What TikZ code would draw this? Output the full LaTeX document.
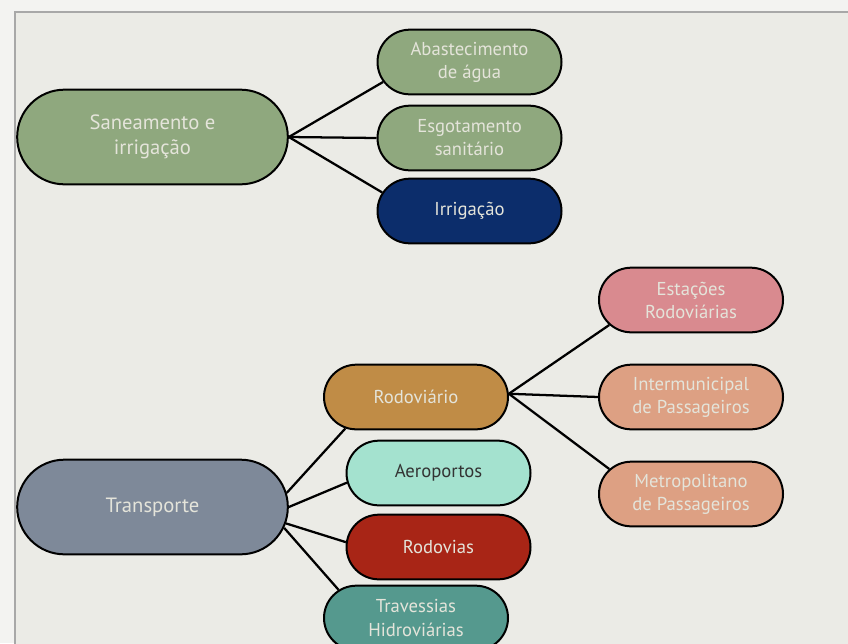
\documentclass[tikz,border=0pt]{standalone}
\usepackage{fontspec}
\setmainfont{PT Sans}
\usetikzlibrary{shapes.misc}
\definecolor{fundo}{HTML}{F3F3F1}
\definecolor{quadro}{HTML}{EBEBE6}
\definecolor{moldura}{HTML}{A8A8A8}
\definecolor{claro}{HTML}{E4E4DA}
\definecolor{verde}{HTML}{8FA87E}
\definecolor{azul}{HTML}{0C2D6B}
\definecolor{cinza}{HTML}{7E8999}
\definecolor{ocre}{HTML}{C08C46}
\definecolor{agua}{HTML}{A4E2CF}
\definecolor{vermelho}{HTML}{A82516}
\definecolor{petroleo}{HTML}{55998E}
\definecolor{rosa}{HTML}{D98A8F}
\definecolor{salmao}{HTML}{DDA083}
\begin{document}
\begin{tikzpicture}  % ------ Saneamento e transporte --------
      [x=0.75pt,y=-0.75pt,
       caixa/.style={rounded rectangle, draw=black, line width=1.5pt,
          minimum height=48.5pt, minimum width=142pt, inner sep=2pt,
          text=claro, align=center, font=\fontsize{14}{17.3}\selectfont},
       grande/.style={caixa, minimum height=71pt, minimum width=207pt,
          font=\fontsize{15.5}{18.5}\selectfont},
       ramo/.style={line width=1.7pt}]
    \useasboundingbox (0,0) rectangle (848,643);
    \clip (0,0) rectangle (848,643);
    \fill[fundo] (0,0) rectangle (848,643);
    \filldraw[fill=quadro, draw=moldura, line width=1.5pt] (15,12) rectangle (870,670);
    % centros
    \coordinate (S) at (152.5,137);
    \coordinate (S1) at (469.5,62);
    \coordinate (S2) at (469.5,138);
    \coordinate (S3) at (469.5,211);
    \coordinate (T) at (152.5,507);
    \coordinate (T1) at (416,397);
    \coordinate (T2) at (438.5,473);
    \coordinate (T3) at (438.5,547);
    \coordinate (T4) at (416,618);
    \coordinate (R1) at (691,300);
    \coordinate (R2) at (691,397);
    \coordinate (R3) at (691,494);
    % saneamento
    \node[grande, fill=verde] (sane) at (S) {Saneamento e\\irrigação};
    \node[caixa, fill=verde] (abast) at (S1) {Abastecimento\\de água};
    \node[caixa, fill=verde] (esgot) at (S2) {Esgotamento\\sanitário};
    \node[caixa, fill=azul] (irrig) at (S3) {Irrigação};
    \draw[ramo] (sane.east) -- (abast.193);
    \draw[ramo] (sane.east) -- (esgot.west);
    \draw[ramo] (sane.east) -- (irrig.168);
    % transporte
    \node[grande, fill=cinza] (transp) at (T) {Transporte};
    \node[caixa, fill=ocre] (rodov) at (T1) {Rodoviário};
    \node[caixa, fill=agua, text=black!80] (aero) at (T2) {Aeroportos};
    \node[caixa, fill=vermelho] (rodovias) at (T3) {Rodovias};
    \node[caixa, fill=petroleo] (hidro) at (T4) {Travessias\\Hidroviárias};
    \draw[ramo] (transp.6) -- (rodov.204);
    \draw[ramo] (transp.east) -- (aero.186);
    \draw[ramo] (transp.-7) -- (rodovias.177);
    \draw[ramo] (transp.-9) -- (hidro.160);
    % rodoviario
    \node[caixa, fill=rosa] (estac) at (R1) {Estações\\Rodoviárias};
    \node[caixa, fill=salmao] (inter) at (R2) {Intermunicipal\\de Passageiros};
    \node[caixa, fill=salmao] (metro) at (R3) {Metropolitano\\de Passageiros};
    \draw[ramo] (rodov.2) -- (estac.197);
    \draw[ramo] (rodov.2) -- (inter.west);
    \draw[ramo] (rodov.2) -- (metro.163);
\end{tikzpicture}
\end{document}
